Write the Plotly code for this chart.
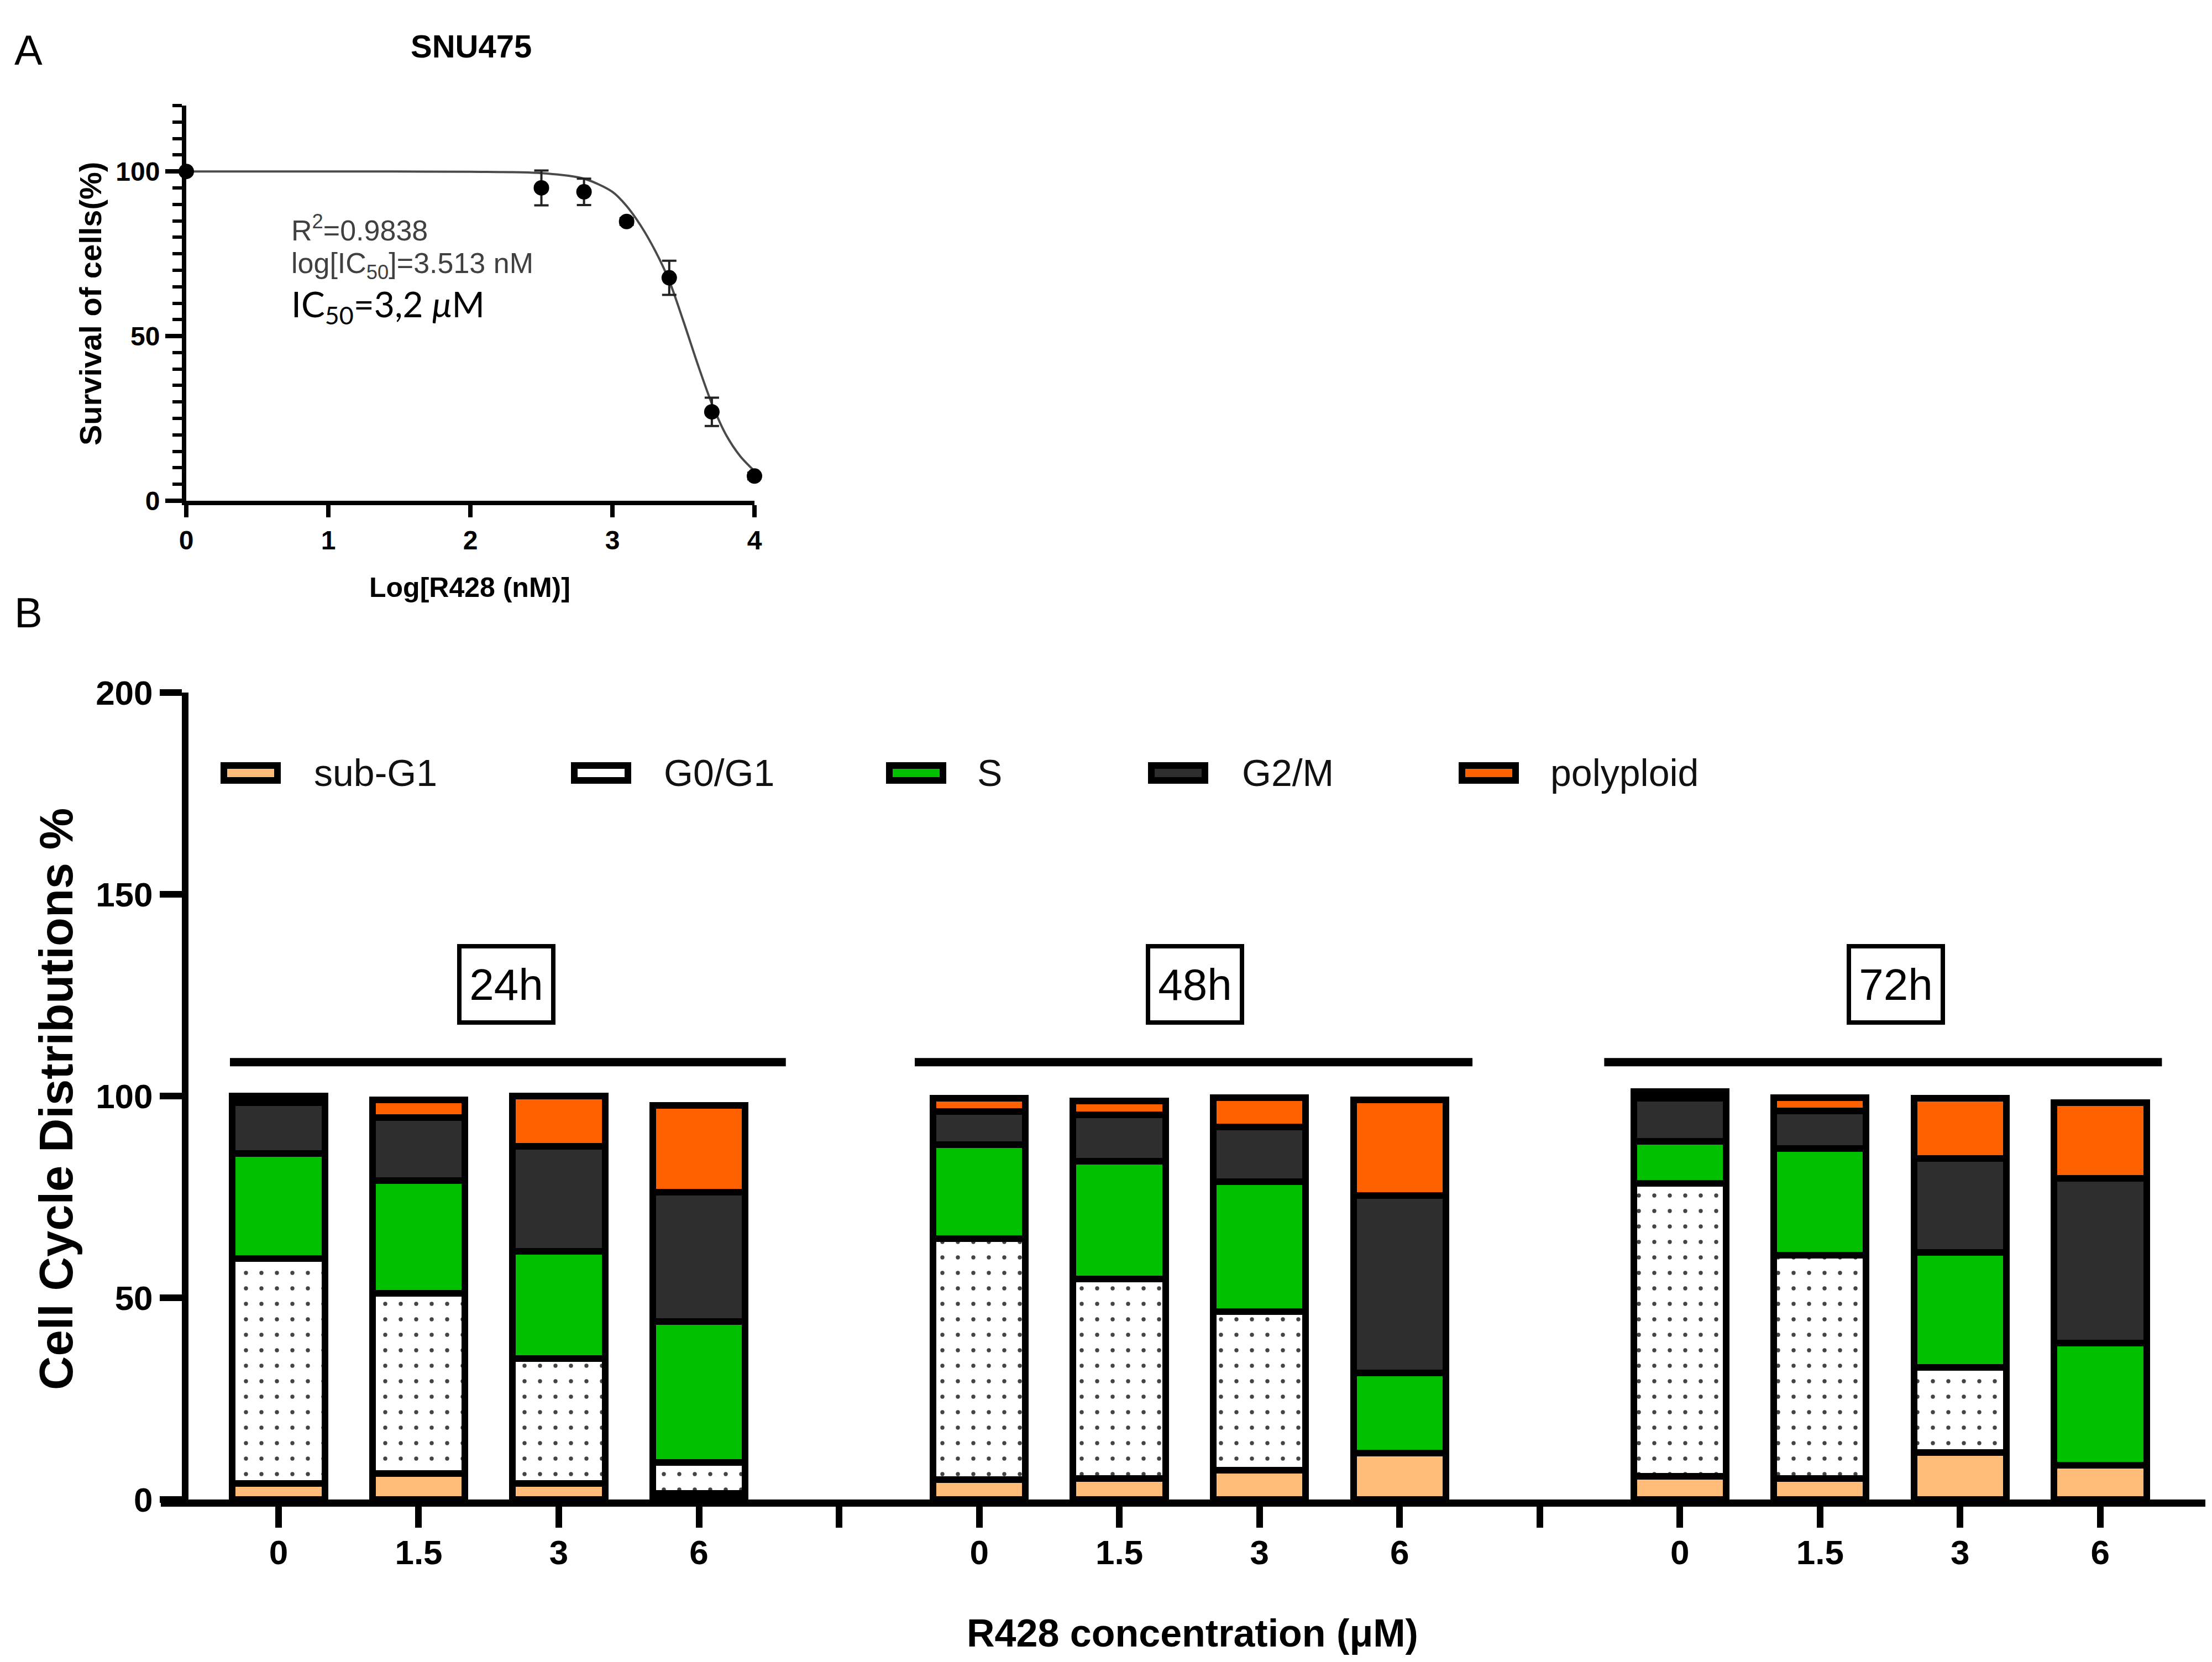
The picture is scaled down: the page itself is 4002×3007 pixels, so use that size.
import plotly.graph_objects as go

# ---------------- data ----------------
# Panel A: dose-response (SNU475)
log_conc = [0, 2.5, 2.8, 3.1, 3.4, 3.7, 4.0]
survival = [100, 95.0, 93.8, 84.8, 67.7, 27.0, 7.5]
survival_err = [0, 5.3, 4.0, 1.0, 5.2, 4.3, 1.0]
# fitted curve
curve_x = [0, 1.0, 2.0, 2.5, 2.8, 3.0, 3.1, 3.2, 3.3, 3.4, 3.5, 3.6, 3.7, 3.8, 3.9, 4.0]
curve_y = [100, 100, 99.9, 99.5, 97.8, 93.8, 89.5, 83.5, 76.0, 66.8, 54.5, 41.5, 29.5, 20.0, 13.5, 9.0]

# Panel B: cell cycle distribution (%)
groups = ["24h", "48h", "72h"]
concentrations = ["0", "1.5", "3", "6"]
phases = ["sub-G1", "G0/G1", "S", "G2/M", "polyploid"]
sub_g1 = [4.0, 6.4, 4.0, 1.5, 4.9, 5.2, 7.2, 11.5, 5.8, 5.2, 11.7, 8.5]
g0_g1 = [55.7, 44.7, 31.0, 7.7, 59.8, 49.5, 39.4, 0.0, 72.5, 55.4, 21.0, 0.0]
s_phase = [26.0, 27.9, 26.5, 34.9, 23.3, 29.1, 32.1, 19.9, 10.5, 26.4, 28.6, 30.3]
g2_m = [12.7, 15.6, 26.1, 32.1, 8.1, 11.6, 13.6, 43.9, 10.7, 9.3, 23.2, 40.8]
polyploid = [1.6, 4.5, 12.4, 21.5, 3.4, 3.4, 7.3, 23.8, 1.6, 3.3, 14.9, 18.8]
phase_colors = ["#FFBB78", "#FFFFFF", "#00C000", "#2E2E2E", "#FF6000"]

# ---------------- layout helpers ----------------
W, H = 4002, 3007
FONT = "Liberation Sans, Arial, sans-serif"
OFF_X, OFF_Y = 8, 10   # compensate the page offset of the rendered figure


def px(x):
    return (x - OFF_X) / W


def py(y):
    return 1 - (y - OFF_Y) / H


fig = go.Figure()

# ---------- Panel A ----------
fig.add_trace(go.Scatter(
    x=curve_x, y=curve_y, mode="lines",
    line=dict(color="#4a4a4a", width=4, shape="spline", smoothing=0.8),
    xaxis="x", yaxis="y", cliponaxis=False, showlegend=False))
fig.add_trace(go.Scatter(
    x=log_conc, y=survival, mode="markers",
    marker=dict(color="black", size=28),
    error_y=dict(type="data", array=survival_err, visible=True,
                 color="#222222", thickness=4, width=13),
    xaxis="x", yaxis="y", cliponaxis=False, showlegend=False))

# ---------- Panel B ----------
slots = []
for gi, g in enumerate(groups):
    for ci, c in enumerate(concentrations):
        slots.append(gi * 5 + ci)
all_ticks = list(range(0, 14))
ticktext = ["" if t % 5 == 4 else concentrations[t % 5] for t in all_ticks]

series = [sub_g1, g0_g1, s_phase, g2_m, polyploid]
for name, vals, col in zip(phases, series, phase_colors):
    marker = dict(color=col, line=dict(color="black", width=12))
    if name == "G0/G1":
        marker["pattern"] = dict(shape=".", fgcolor="#444444", bgcolor="#FFFFFF",
                                 size=28, solidity=0.055, fillmode="replace")
    fig.add_trace(go.Bar(
        x=slots, y=vals, name=name, width=0.66, marker=marker,
        xaxis="x2", yaxis="y2", showlegend=False))

shapes = []
annotations = []

# group lines and labels
group_line_ends = [(-0.347, 3.62), (4.54, 8.52), (9.46, 13.44)]
group_label_x = [1.625, 6.54, 11.54]
for g, (x0, x1), lx in zip(groups, group_line_ends, group_label_x):
    shapes.append(dict(type="line", xref="x2", yref="y2", x0=x0, x1=x1,
                       y0=108.4, y1=108.4, line=dict(color="black", width=15)))
    annotations.append(dict(xref="x2", yref="y2", x=lx, y=127.7, text=g,
                            xanchor="center", yanchor="middle",
                            showarrow=False, font=dict(family=FONT, size=80, color="black"),
                            bordercolor="black", borderwidth=8, borderpad=6,
                            width=150, height=118, bgcolor="white"))

# manual legend
swatch_left = [399, 1033, 1603, 2077, 2639]
legend_text_left = [566, 1199, 1766, 2245, 2803]
for name, col, sx, tx in zip(phases, phase_colors, swatch_left, legend_text_left):
    shapes.append(dict(type="rect", xref="paper", yref="paper",
                       x0=px(sx + 6), x1=px(sx + 103), y0=py(1414), y1=py(1387),
                       fillcolor=col, line=dict(color="black", width=12)))
    annotations.append(dict(xref="paper", yref="paper", x=px(tx), y=py(1400),
                            xanchor="left", yanchor="middle", text=name, showarrow=False,
                            font=dict(family=FONT, size=68, color="#111111")))


def txt(x, y, text, size, color="black", bold=False, angle=0, xanchor="center",
        family=FONT):
    f = dict(family=family, size=size, color=color)
    if bold:
        f["weight"] = "bold"
    return dict(xref="paper", yref="paper", x=px(x), y=py(y), text=text,
                showarrow=False, xanchor=xanchor, yanchor="middle",
                textangle=angle, font=f)


annotations += [
    txt(51, 92, "A", 76),
    txt(51, 1110, "B", 76),
    txt(852, 86, "SNU475", 58, bold=True),
    txt(163, 551, "Survival of cells(%)", 56, bold=True, angle=-90),
    txt(850, 1065, "Log[R428 (nM)]", 50, bold=True),
    txt(525, 415, "R<sup>2</sup>=0.9838", 52, color="#404040", xanchor="left"),
    txt(525, 482, "log[IC<sub>50</sub>]=3.513 nM", 52, color="#404040", xanchor="left"),
    txt(525, 556, "IC<sub>50</sub>=3,2 <i>\u03bc</i>M", 64, xanchor="left",
        family="Lato, Open Sans, sans-serif"),
    txt(101, 1991, "Cell Cycle Distributions %", 85, bold=True, angle=-90),
    txt(2157, 2957, "R428 concentration (\u03bcM)", 70, bold=True),
]

tickfont_a = dict(family=FONT, size=48, color="black", weight="bold")
tickfont_b = dict(family=FONT, size=62, color="black", weight="bold")

fig.update_layout(
    width=W, height=H, autosize=False,
    margin=dict(l=0, r=0, t=0, b=0, pad=0),
    paper_bgcolor="white", plot_bgcolor="white",
    barmode="stack", showlegend=False,
    shapes=shapes, annotations=annotations,
    xaxis=dict(domain=[px(337), px(1365)], range=[0, 4], anchor="y",
               showline=True, linecolor="black", linewidth=8,
               ticks="outside", ticklen=22, tickwidth=8, tickcolor="black",
               tick0=0, dtick=1, tickfont=tickfont_a, automargin=False,
               showgrid=False, zeroline=False),
    yaxis=dict(domain=[py(908), py(193)], range=[0, 120], anchor="x",
               showline=True, linecolor="black", linewidth=8,
               ticks="outside", ticklen=30, tickwidth=8, tickcolor="black",
               tick0=0, dtick=50, tickfont=tickfont_a, automargin=False,
               minor=dict(dtick=5, tick0=0, ticks="outside", ticklen=17,
                          tickwidth=6, tickcolor="black", showgrid=False),
               showgrid=False, zeroline=False),
    xaxis2=dict(domain=[px(291), px(3990)], range=[-0.84, 13.75], anchor="y2",
                showline=True, linecolor="black", linewidth=13,
                ticks="outside", ticklen=38, tickwidth=12, tickcolor="black",
                tickmode="array", tickvals=all_ticks, ticktext=ticktext,
                ticklabelstandoff=-8,
                tickfont=tickfont_b, automargin=False,
                showgrid=False, zeroline=False),
    yaxis2=dict(domain=[py(2715), py(1255)], range=[0, 200], anchor="free",
                position=px(335),
                showline=True, linecolor="black", linewidth=12,
                ticks="outside", ticklen=40, tickwidth=12, tickcolor="black",
                tick0=0, dtick=50, tickfont=tickfont_b, automargin=False,
                showgrid=False, zeroline=False),
)

fig.write_html("out.html")
